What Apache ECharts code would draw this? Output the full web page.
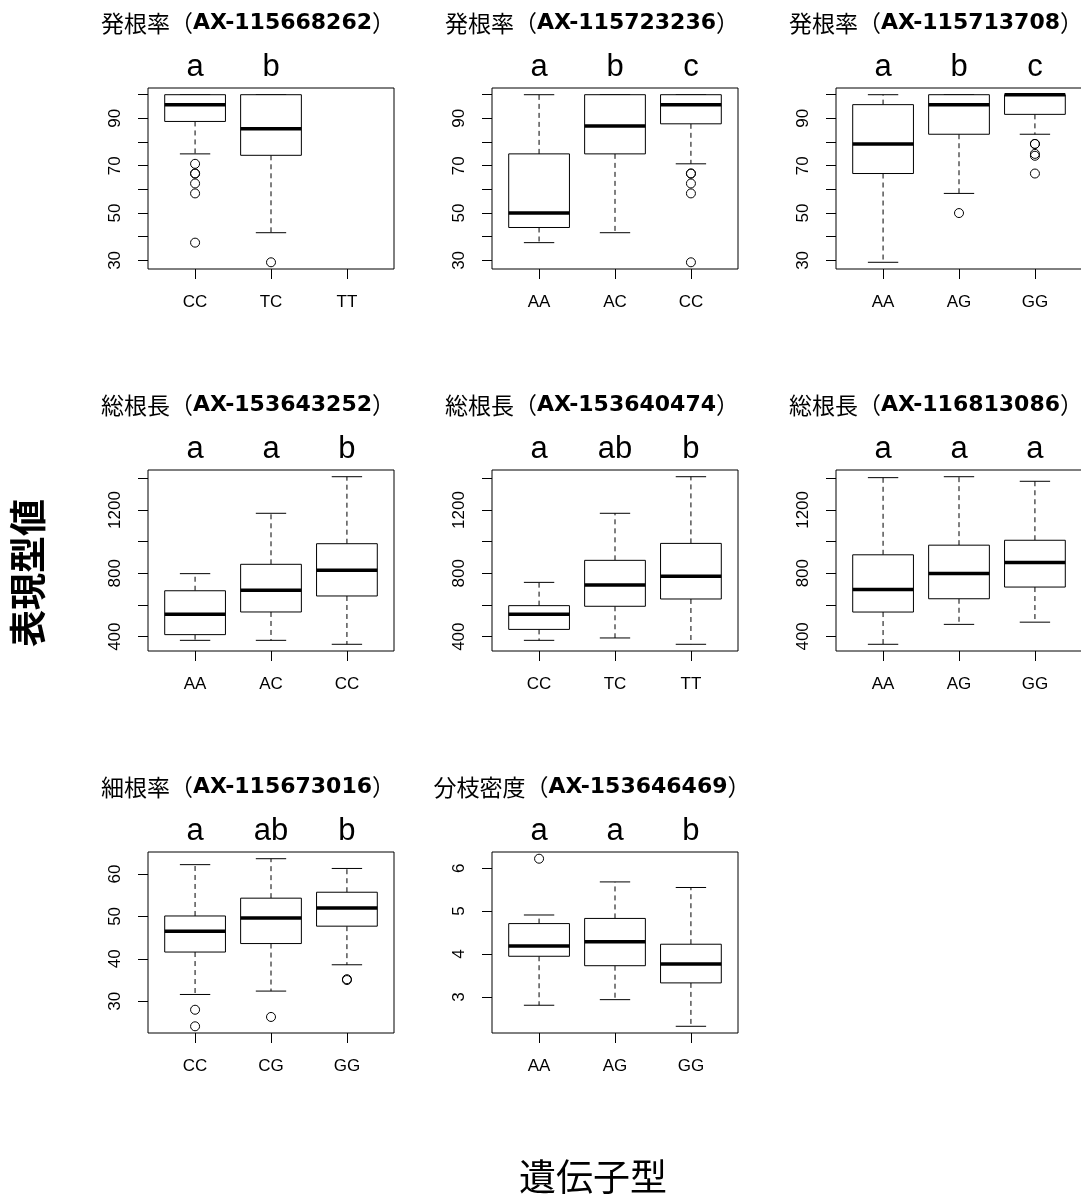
<!DOCTYPE html>
<html>
<head>
<meta charset="utf-8">
<script src="https://cdn.jsdelivr.net/npm/echarts@6/dist/echarts.min.js"></script>
<style>
  html, body { margin: 0; padding: 0; background: #fff; }
  #chart { width: 1081px; height: 1203px; }
</style>
</head>
<body>
<div id="chart"></div>
<script>
// ---------------- data ----------------
// one entry per panel, read left-to-right, top-to-bottom
const traits  = ['発根率', '発根率', '発根率', '総根長', '総根長', '総根長', '細根率', '分枝密度'];
const markers = ['AX-115668262', 'AX-115723236', 'AX-115713708',
                 'AX-153643252', 'AX-153640474', 'AX-116813086',
                 'AX-115673016', 'AX-153646469'];

const genotypes = [
  ['CC', 'TC', 'TT'], ['AA', 'AC', 'CC'], ['AA', 'AG', 'GG'],
  ['AA', 'AC', 'CC'], ['CC', 'TC', 'TT'], ['AA', 'AG', 'GG'],
  ['CC', 'CG', 'GG'], ['AA', 'AG', 'GG']
];

// significance groups printed above each genotype
const groupLetters = [
  ['a', 'b', ''], ['a', 'b', 'c'], ['a', 'b', 'c'],
  ['a', 'a', 'b'], ['a', 'ab', 'b'], ['a', 'a', 'a'],
  ['a', 'ab', 'b'], ['a', 'a', 'b']
];

// [lower whisker, Q1, median, Q3, upper whisker] per genotype (null = no samples)
const rootingRateStats = [
  [[75.0, 88.7, 95.8, 100, 100], [41.7, 74.4, 85.6, 100, 100], null],
  [[37.5, 43.9, 50.0, 75.0, 100], [41.7, 75.0, 86.8, 100, 100], [70.8, 87.7, 95.8, 100, 100]],
  [[29.2, 66.7, 79.2, 95.8, 100], [58.3, 83.3, 95.8, 100, 100], [83.3, 91.7, 100, 100, 100]]
];
const totalLengthStats = [
  [[377, 413, 541, 690, 798], [377, 556, 693, 857, 1179], [352, 657, 819, 987, 1410]],
  [[377, 446, 541, 596, 743], [392, 592, 726, 882, 1179], [352, 638, 781, 989, 1410]],
  [[350, 554, 697, 916, 1404], [476, 638, 798, 977, 1410], [490, 712, 867, 1008, 1381]]
];
const fineRootStats = [
  [[31.6, 41.6, 46.5, 50.1, 62.2], [32.4, 43.6, 49.6, 54.3, 63.6], [38.6, 47.7, 52.0, 55.7, 61.3]]
];
const branchDensityStats = [
  [[2.81, 3.95, 4.19, 4.71, 4.91], [2.94, 3.73, 4.29, 4.83, 5.68], [2.32, 3.33, 3.77, 4.23, 5.55]]
];

// points beyond the whiskers, per genotype
const rootingRateOutliers = [
  [[70.8, 66.7, 66.7, 62.5, 58.3, 37.5], [29.2], []],
  [[], [], [66.7, 66.7, 62.5, 58.3, 29.2]],
  [[], [50.0], [79.2, 79.2, 75.0, 74.2, 66.7]]
];
const totalLengthOutliers = [[[], [], []], [[], [], []], [[], [], []]];
const fineRootOutliers = [[[28.0, 24.1], [26.3], [35.2, 35.0]]];
const branchDensityOutliers = [[[6.22], [], []]];

// y-axis ticks and the subset that carries a label
const rateTicks = [30, 40, 50, 60, 70, 80, 90, 100];
const rateLabels = [30, 50, 70, 90];
const lengthTicks = [400, 600, 800, 1000, 1200, 1400];
const lengthLabels = [400, 800, 1200];
const fineTicks = [30, 40, 50, 60];
const branchTicks = [3, 4, 5, 6];

const boxStats = [...rootingRateStats, ...totalLengthStats, ...fineRootStats, ...branchDensityStats];
const outlierValues = [...rootingRateOutliers, ...totalLengthOutliers, ...fineRootOutliers, ...branchDensityOutliers];
const yTickSets  = [rateTicks, rateTicks, rateTicks, lengthTicks, lengthTicks, lengthTicks, fineTicks, branchTicks];
const yLabelSets = [rateLabels, rateLabels, rateLabels, lengthLabels, lengthLabels, lengthLabels, fineTicks, branchTicks];

// ---------------- layout ----------------
const COL_LEFT = [148, 492, 836];
const ROW_TOP = [88, 470, 852];
const PLOT_W = 246;
const PLOT_H = 181;
const BOX_HALF = 0.4;    // half box width, in category units
const CAP_HALF = 0.2;    // half whisker-cap width
const LABEL_FONT = '"Liberation Sans", Arial, Helvetica, sans-serif';
const CJK_FONT = '"Noto Sans CJK JP", sans-serif';

function renderBox(params, api) {
  const x = api.value(0);
  const v = [1, 2, 3, 4, 5].map(d => api.value(d));
  const P = (dx, val) => api.coord([x + dx, val]);
  const seg = (a, b, style) => ({ type: 'line', shape: { x1: a[0], y1: a[1], x2: b[0], y2: b[1] }, style });
  const solid = { stroke: '#000', lineWidth: 1 };
  const dashed = { stroke: '#000', lineWidth: 1, lineDash: [5, 4] };
  const tl = P(-BOX_HALF, v[3]);
  const br = P(BOX_HALF, v[1]);
  return {
    type: 'group',
    children: [
      seg(P(0, v[3]), P(0, v[4]), dashed),
      seg(P(0, v[1]), P(0, v[0]), dashed),
      seg(P(-CAP_HALF, v[4]), P(CAP_HALF, v[4]), solid),
      seg(P(-CAP_HALF, v[0]), P(CAP_HALF, v[0]), solid),
      { type: 'rect', shape: { x: tl[0], y: tl[1], width: br[0] - tl[0], height: br[1] - tl[1] },
        style: { fill: '#fff', stroke: '#000', lineWidth: 1 } },
      seg(P(-BOX_HALF, v[2]), P(BOX_HALF, v[2]), { stroke: '#000', lineWidth: 3.5 })
    ]
  };
}

const grids = [], xAxes = [], yAxes = [], series = [], graphics = [];

traits.forEach((trait, i) => {
  const col = i % 3, row = Math.floor(i / 3);
  const left = COL_LEFT[col], top = ROW_TOP[row];
  const cats = genotypes[i];
  const letters = groupLetters[i];

  grids.push({
    left, top, width: PLOT_W, height: PLOT_H,
    show: true, borderColor: '#000', borderWidth: 1, backgroundColor: 'transparent',
    containLabel: false, outerBoundsMode: 'none'
  });

  // y range: data extent widened by 4% on each side
  const all = [];
  boxStats[i].forEach(s => s && all.push(...s));
  outlierValues[i].forEach(o => all.push(...o));
  const lo = Math.min(...all), hi = Math.max(...all), pad = (hi - lo) * 0.04;

  const catPos = cats.map((_, j) => j + 1);

  xAxes.push({
    gridIndex: i, type: 'value', position: 'bottom', min: 0.38, max: 3.62,
    axisLine: { show: false }, splitLine: { show: false },
    axisTick: { show: true, customValues: catPos, length: 10, lineStyle: { color: '#000', width: 1 } },
    axisLabel: { customValues: catPos, formatter: v => cats[Math.round(v) - 1] || '',
      fontSize: 17, color: '#000', fontFamily: LABEL_FONT, margin: 25 }
  });
  xAxes.push({
    gridIndex: i, type: 'value', position: 'top', min: 0.38, max: 3.62,
    axisLine: { show: false }, splitLine: { show: false }, axisTick: { show: false },
    axisLabel: { customValues: catPos, formatter: v => letters[Math.round(v) - 1] || '',
      fontSize: 31, color: '#000', fontFamily: LABEL_FONT, margin: 5 }
  });
  yAxes.push({
    gridIndex: i, type: 'value', min: lo - pad, max: hi + pad,
    axisLine: { show: false }, splitLine: { show: false },
    axisTick: { show: true, customValues: yTickSets[i], length: 10, lineStyle: { color: '#000', width: 1 } },
    axisLabel: { customValues: yLabelSets[i], formatter: v => String(v), rotate: 90, fontSize: 17,
      color: '#000', fontFamily: LABEL_FONT, margin: 24 }
  });

  const boxData = [];
  const ptData = [];
  boxStats[i].forEach((s, j) => { if (s) boxData.push([j + 1, ...s]); });
  outlierValues[i].forEach((o, j) => o.forEach(v => ptData.push([j + 1, v])));

  series.push({
    type: 'custom', xAxisIndex: 2 * i, yAxisIndex: i,
    renderItem: renderBox, data: boxData,
    encode: { x: 0, y: [1, 2, 3, 4, 5] }, silent: true
  });
  series.push({
    type: 'scatter', xAxisIndex: 2 * i, yAxisIndex: i, data: ptData,
    symbol: 'circle', symbolSize: 9, silent: true,
    itemStyle: { color: 'rgba(0,0,0,0)', borderColor: '#000', borderWidth: 1, opacity: 1 }
  });

  // panel heading: trait (regular) + marker id (bold)
  graphics.push({
    type: 'text', x: left + PLOT_W / 2 - 23, y: top - 65,
    style: {
      text: '{n|' + trait + '（}{b|' + markers[i] + '}{n|）}',
      align: 'center', verticalAlign: 'middle',
      rich: {
        n: { fontSize: 23, fontFamily: CJK_FONT, fill: '#000' },
        b: { fontSize: 22, fontFamily: '"DejaVu Sans", sans-serif', fontWeight: 'bold', fill: '#000' }
      }
    }
  });
});

graphics.push({
  type: 'text', x: 28, y: 573, rotation: Math.PI / 2,
  style: { text: '表現型値', fontSize: 37, fontFamily: CJK_FONT, fontWeight: 'bold', fill: '#000',
    align: 'center', verticalAlign: 'middle' }
});
graphics.push({
  type: 'text', x: 593, y: 1177,
  style: { text: '遺伝子型', fontSize: 37, fontFamily: CJK_FONT, fill: '#000',
    align: 'center', verticalAlign: 'middle' }
});

const chart = echarts.init(document.getElementById('chart'), null, { renderer: 'canvas' });
chart.setOption({
  animation: false,
  backgroundColor: '#fff',
  grid: grids,
  xAxis: xAxes,
  yAxis: yAxes,
  series,
  graphic: graphics
});
</script>
</body>
</html>
